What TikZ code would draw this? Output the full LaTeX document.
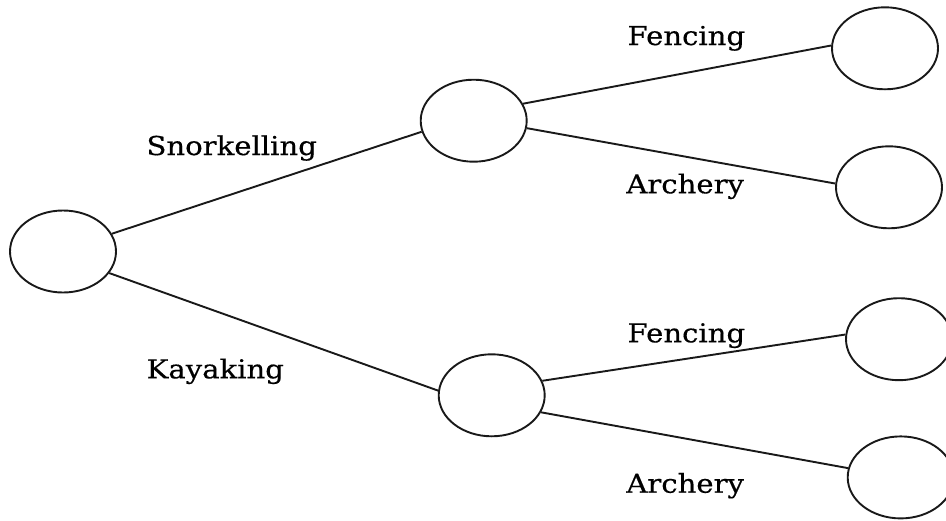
\documentclass[tikz,border=0pt]{standalone}
\usepackage{fontspec}
\setmainfont{DejaVu Serif}[FakeStretch=1.12,FakeBold=0.4]
\usetikzlibrary{shapes.geometric}
\begin{document}
\begin{tikzpicture}[x=1pt,y=-1pt,
  leaf/.style={ellipse,draw=black!90,line width=1.9pt,minimum width=106pt,minimum height=82pt,inner sep=0pt},
  edge/.style={draw=black!90,line width=1.9pt},
  lbl/.style={anchor=base,inner sep=0pt,font=\fontsize{26}{30}\selectfont}]
\useasboundingbox (0,0) rectangle (946,520);
\node[leaf] (root) at (63,251.5) {};
\node[leaf] (m1) at (473.7,120.7) {};
\node[leaf] (m2) at (491.7,395.3) {};
\node[leaf] (r1) at (885,48.3) {};
\node[leaf] (r2) at (889,187.3) {};
\node[leaf] (r3) at (899,339.2) {};
\node[leaf] (r4) at (900.7,477.4) {};
\draw[edge] (root.20) -- (m1.192);
\draw[edge] (root.-25) -- (m2.175);
\draw[edge] (m1.19) -- (r1.177);
\draw[edge] (m1.-8) -- (r2.176);
\draw[edge] (m2.16) -- (r3.175);
\draw[edge] (m2.-19) -- (r4.170);
\node[lbl] (snork) at (231.7,155) {Snorkelling};
\node[lbl] (kayak) at (215.3,378.3) {Kayaking};
\node[lbl] (fen1) at (686.3,45) {Fencing};
\node[lbl] (arch1) at (685.2,193.3) {Archery};
\node[lbl] (fen2) at (686.3,342.3) {Fencing};
\node[lbl] (arch2) at (685.2,492.7) {Archery};
\end{tikzpicture}
\end{document}
